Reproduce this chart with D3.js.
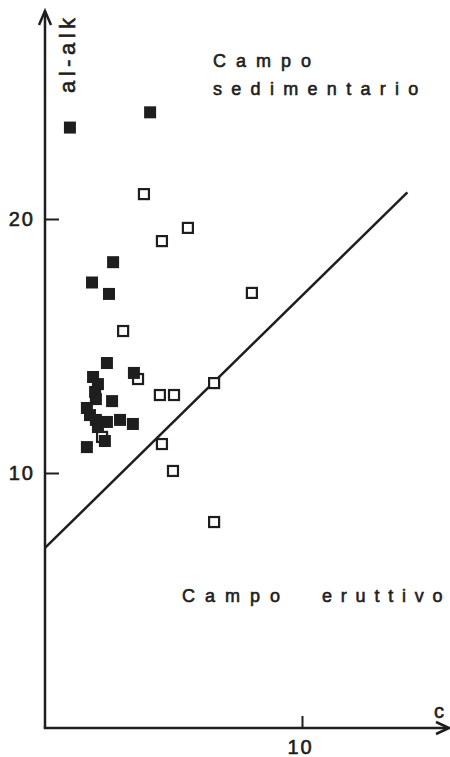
<!DOCTYPE html>
<html>
<head>
<meta charset="utf-8">
<script src="https://cdn.jsdelivr.net/npm/d3@7"></script>
<style>
  body { margin: 0; background: #fff; }
  svg { display: block; }
  text { font-family: "Liberation Sans", Arial, sans-serif; fill: #1e1e1e; stroke: #1e1e1e; stroke-width: 0.6; }
</style>
</head>
<body>
<div id="chart"></div>
<script>
// filled squares [c, al-alk]
var filledPts = [
  [0.97, 23.6], [4.09, 24.2], [2.65, 18.3], [1.83, 17.5], [2.49, 17.05],
  [2.41, 14.33], [3.46, 13.94], [1.87, 13.78], [2.06, 13.5], [1.95, 13.19],
  [1.98, 12.91], [2.61, 12.83], [1.63, 12.56], [1.75, 12.28], [1.98, 12.09],
  [2.41, 12.01], [2.92, 12.09], [3.42, 11.93], [2.06, 11.81], [2.33, 11.26],
  [1.63, 11.02]
];
// open squares [c, al-alk]
var openPts = [
  [3.85, 20.98], [4.55, 19.13], [5.56, 19.65], [8.05, 17.09], [3.04, 15.59],
  [3.62, 13.7], [6.58, 13.54], [4.47, 13.07], [5.02, 13.07], [4.55, 11.14],
  [4.98, 10.08], [6.58, 8.07], [2.22, 11.42]
];
// dividing line endpoints
var divLine = [[0, 7.05], [14.1, 21.05]];
var xTicks = [10];
var yTicks = [10, 20];

var W = 450, H = 757;
var svg = d3.select("#chart").append("svg").attr("width", W).attr("height", H);

var x = d3.scaleLinear().domain([0, 15]).range([45, 430.5]);
var y = d3.scaleLinear().domain([0, 28]).range([727, 15.8]);

var ink = "#1e1e1e";

// axes with arrows
svg.append("line").attr("x1", 45).attr("y1", 728.5).attr("x2", 45).attr("y2", 11)
  .attr("stroke", ink).attr("stroke-width", 2.5);
svg.append("path").attr("d", "M39,25 L45,11 L51,25")
  .attr("fill", "none").attr("stroke", ink).attr("stroke-width", 2.5);
svg.append("line").attr("x1", 43.8).attr("y1", 728).attr("x2", 448).attr("y2", 728)
  .attr("stroke", ink).attr("stroke-width", 2.5);
svg.append("path").attr("d", "M436,722 L449,728 L436,734")
  .attr("fill", "none").attr("stroke", ink).attr("stroke-width", 2.5);

var gx = svg.append("g").attr("transform", "translate(0,728)")
  .call(d3.axisBottom(x).tickValues(xTicks).tickSize(-12).tickPadding(11).tickFormat(d3.format("d")));
var gy = svg.append("g").attr("transform", "translate(45,0)")
  .call(d3.axisLeft(y).tickValues(yTicks).tickSize(-14).tickPadding(10).tickFormat(d3.format("d")));
[gx, gy].forEach(function (g) {
  g.select(".domain").remove();
  g.selectAll(".tick line").attr("stroke", ink).attr("stroke-width", 2);
  g.selectAll(".tick text").attr("font-size", 20).attr("letter-spacing", 2)
    .attr("font-family", "Liberation Sans, Arial, sans-serif").attr("fill", ink);
});
gx.selectAll(".tick text").attr("dy", "0.76em").attr("dx", -2);

// axis titles
svg.append("text").attr("transform", "translate(75,93) rotate(-90)")
  .attr("font-size", 22).attr("letter-spacing", 4.5).text("al-alk");
svg.append("text").attr("x", 434).attr("y", 718).attr("font-size", 20).text("c");

// dividing line
svg.append("line")
  .attr("x1", x(divLine[0][0])).attr("y1", y(divLine[0][1]))
  .attr("x2", x(divLine[1][0])).attr("y2", y(divLine[1][1]))
  .attr("stroke", ink).attr("stroke-width", 2.5);

// field labels
svg.append("text").attr("x", 213).attr("y", 67).attr("font-size", 18).attr("letter-spacing", 10).text("Campo");
svg.append("text").attr("x", 213).attr("y", 95).attr("font-size", 18).attr("letter-spacing", 9.3).text("sedimentario");
svg.append("text").attr("x", 182).attr("y", 602).attr("font-size", 18).attr("letter-spacing", 10).text("Campo");
svg.append("text").attr("x", 322).attr("y", 602).attr("font-size", 18).attr("letter-spacing", 8.8).text("eruttivo");

// markers
var s = 12;
svg.append("g").selectAll("rect").data(openPts).enter().append("rect")
  .attr("x", function (d) { return x(d[0]) - s / 2 + 1; })
  .attr("y", function (d) { return y(d[1]) - s / 2 + 1; })
  .attr("width", s - 2).attr("height", s - 2)
  .attr("fill", "#fff").attr("stroke", ink).attr("stroke-width", 2.2);
svg.append("g").selectAll("rect").data(filledPts).enter().append("rect")
  .attr("x", function (d) { return x(d[0]) - s / 2; })
  .attr("y", function (d) { return y(d[1]) - s / 2; })
  .attr("width", s).attr("height", s)
  .attr("fill", ink);
</script>
</body>
</html>
